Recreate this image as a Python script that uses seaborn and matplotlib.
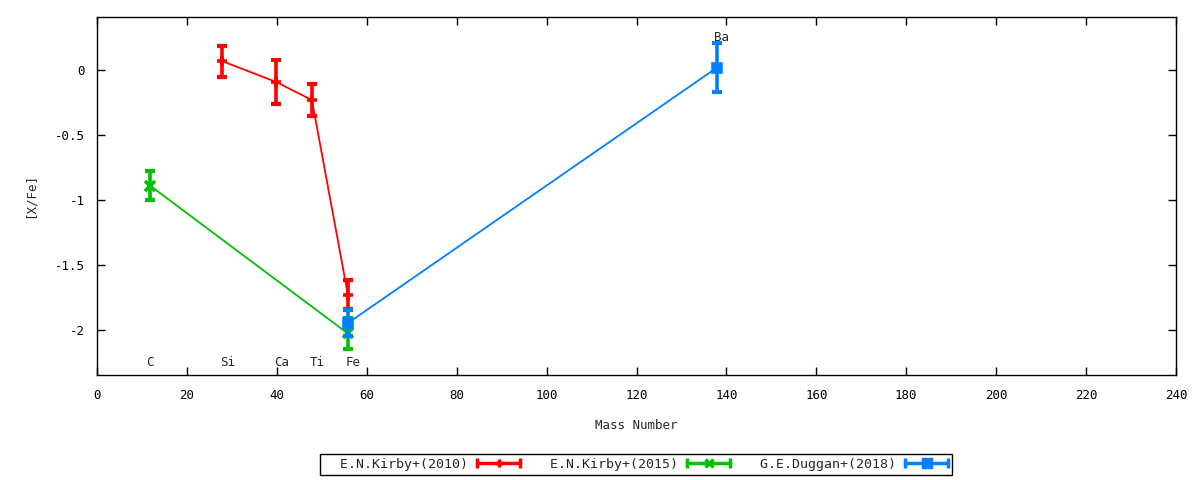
import numpy as np
import pandas as pd
import matplotlib
matplotlib.use("Agg")
import matplotlib.pyplot as plt
from matplotlib.lines import Line2D
from matplotlib.legend_handler import HandlerBase
import seaborn as sns

# element abundances [X/Fe] against mass number
kirby10_el = ["Si", "Ca", "Ti", "Fe"]
kirby10_mass = [27.8, 39.8, 47.8, 55.8]
kirby10_xfe = [0.07, -0.09, -0.23, -1.73]
kirby10_err = [0.12, 0.17, 0.12, 0.11]

kirby15_el = ["C", "Fe"]
kirby15_mass = [11.8, 55.8]
kirby15_xfe = [-0.89, -2.03]
kirby15_err = [0.11, 0.12]

duggan18_el = ["Fe", "Ba"]
duggan18_mass = [55.8, 137.9]
duggan18_xfe = [-1.95, 0.02]
duggan18_err = [0.10, 0.19]

series = [
    ("E.N.Kirby+(2010)", kirby10_mass, kirby10_xfe, kirby10_err, "#ff0000", "+"),
    ("E.N.Kirby+(2015)", kirby15_mass, kirby15_xfe, kirby15_err, "#00c000", "x"),
    ("G.E.Duggan+(2018)", duggan18_mass, duggan18_xfe, duggan18_err, "#0080ff", "s"),
]

sns.set_style("ticks")
plt.rcParams['font.family'] = ['DejaVu Sans Mono']
plt.rcParams['font.size'] = 9
plt.rcParams['axes.unicode_minus'] = False

fig = plt.figure(figsize=(12, 4.8), dpi=100)
ax = fig.add_axes([97/1200, 1-375/480, (1176-97)/1200, (375-17)/480])


class GnuSample(HandlerBase):
    """gnuplot-like key sample: thick bar with caps and a point in the middle"""
    def create_artists(self, legend, orig_handle, xdescent, ydescent,
                       width, height, fontsize, trans):
        color, marker = orig_handle.color, orig_handle.marker
        y = height / 2 - ydescent
        x0, x1 = -xdescent, width - xdescent
        bar = Line2D([x0, x1], [y, y], color=color, lw=2.5, transform=trans)
        caps = Line2D([x0, x1], [y, y], ls="none", marker="|", ms=7, mew=2.5,
                      color=color, transform=trans)
        pt = Line2D([(x0 + x1) / 2], [y], ls="none", marker=marker, ms=6,
                    mew=2.5, color=color, transform=trans)
        return [bar, caps, pt]


class Sample:
    def __init__(self, color, marker):
        self.color, self.marker = color, marker


handles, labels = [], []
for name, mass, xfe, err, color, marker in series:
    df = pd.DataFrame({"mass": mass, "xfe": xfe})
    sns.lineplot(data=df, x="mass", y="xfe", color=color, lw=1.3,
                 sort=False, ax=ax, legend=False)
    ax.errorbar(mass, xfe, yerr=err, fmt="none", ecolor=color,
                elinewidth=2.6, capsize=3.3, capthick=3)
    ax.plot(mass, xfe, ls="none", marker=marker, ms=7 if marker != "s" else 6,
            mew=2.6, color=color)
    handles.append(Sample(color, marker))
    labels.append("  " + name)

# element names at their mass numbers
elements = dict(zip(kirby15_el + kirby10_el, kirby15_mass + kirby10_mass))
for el, m in elements.items():
    ax.annotate(el, (m, -2.25), xytext=(0 if el == "C" else 4, 0),
                textcoords="offset points", ha="center", va="center")
ax.annotate(duggan18_el[1], (duggan18_mass[1], 0.25), xytext=(3, 0),
            textcoords="offset points", ha="center", va="center")

ax.set_xlim(0, 240)
ax.set_ylim(-2.35, 0.41)
ax.set_xticks(np.arange(0, 241, 20))
ax.set_yticks([0, -0.5, -1, -1.5, -2])
ax.yaxis.set_major_formatter(matplotlib.ticker.FuncFormatter(lambda v, p: "%g" % v))
ax.tick_params(direction="in", top=True, right=True, length=6, width=1,
               labelsize=9, colors="black")
ax.tick_params(axis="x", pad=10)
ax.tick_params(axis="y", pad=9)
for s in ax.spines.values():
    s.set_linewidth(1)
    s.set_color("black")
ax.set_xlabel("Mass Number", labelpad=12)
ax.set_ylabel("[X/Fe]", labelpad=13)

fig.legend(handles, labels, handler_map={Sample: GnuSample()},
           loc="upper center", bbox_to_anchor=(636/1200, 1-454/480), ncol=3,
           markerfirst=False, frameon=True, fancybox=False, edgecolor="black",
           framealpha=1, borderpad=0.3, borderaxespad=0, handlelength=3.3,
           handletextpad=0.7, columnspacing=1.0, fontsize=9.5)
fig.legends[0].get_frame().set_linewidth(1)

fig.savefig("out.png", dpi=100)
